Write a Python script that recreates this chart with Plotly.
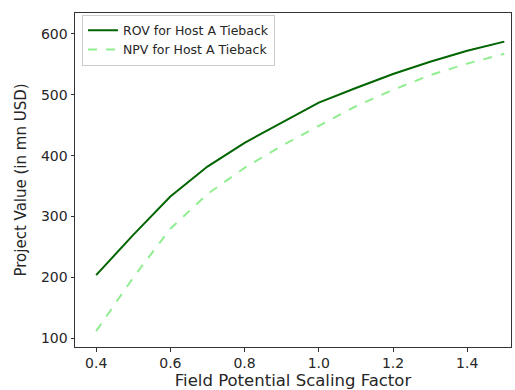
import plotly.graph_objects as go

scaling_factor = [0.4, 0.5, 0.6, 0.7, 0.8, 0.9, 1.0, 1.1, 1.2, 1.3, 1.4, 1.5]
rov_values = [204, 270, 333, 382, 421, 454, 487, 511, 534, 554, 572, 587]
npv_values = [112, 200, 280, 337, 380, 416, 449, 481, 508, 532, 551, 567]
x_ticks = [0.4, 0.6, 0.8, 1.0, 1.2, 1.4]
x_tick_labels = ["0.4", "0.6", "0.8", "1.0", "1.2", "1.4"]
y_ticks = [100, 200, 300, 400, 500, 600]

font_family = "DejaVu Sans"

fig = go.Figure()
fig.add_trace(go.Scatter(
    x=scaling_factor, y=rov_values, mode="lines",
    name="ROV for Host A Tieback",
    line=dict(color="#006400", width=2),
))
fig.add_trace(go.Scatter(
    x=scaling_factor, y=npv_values, mode="lines",
    name="NPV for Host A Tieback",
    line=dict(color="#90EE90", width=2, dash="dash"),
))

axis_common = dict(
    showline=True, linecolor="#333333", linewidth=1, mirror=True,
    ticks="outside", ticklen=3.5, tickcolor="#333333",
    showgrid=False, zeroline=False, automargin=False,
    tickfont=dict(family=font_family, size=14, color="#262626"),
)

fig.update_layout(
    width=515, height=390,
    margin=dict(l=75, r=4, t=13, b=43),
    paper_bgcolor="white", plot_bgcolor="white",
    font=dict(family=font_family, color="#262626"),
    showlegend=True,
    legend=dict(
        x=0.016, y=0.995, xanchor="left", yanchor="top",
        bgcolor="rgba(255,255,255,0.9)", bordercolor="#cccccc", borderwidth=1,
        font=dict(family=font_family, size=12.5, color="#262626"),
        tracegroupgap=0, itemwidth=30,
    ),
    xaxis=dict(
        range=[0.343, 1.518], tickvals=x_ticks, ticktext=x_tick_labels,
        title=dict(text="Field Potential Scaling Factor",
                   font=dict(family=font_family, size=16.5, color="#262626"),
                   standoff=3),
        **axis_common,
    ),
    yaxis=dict(
        range=[86, 634], tickvals=y_ticks,
        title=dict(text="Project Value (in mn USD)",
                   font=dict(family=font_family, size=15, color="#262626"),
                   standoff=10),
        **axis_common,
    ),
)

fig.write_html("out.html",
               config={"displayModeBar": False},
               post_script="document.body.style.margin='0';document.body.style.overflow='hidden';")
